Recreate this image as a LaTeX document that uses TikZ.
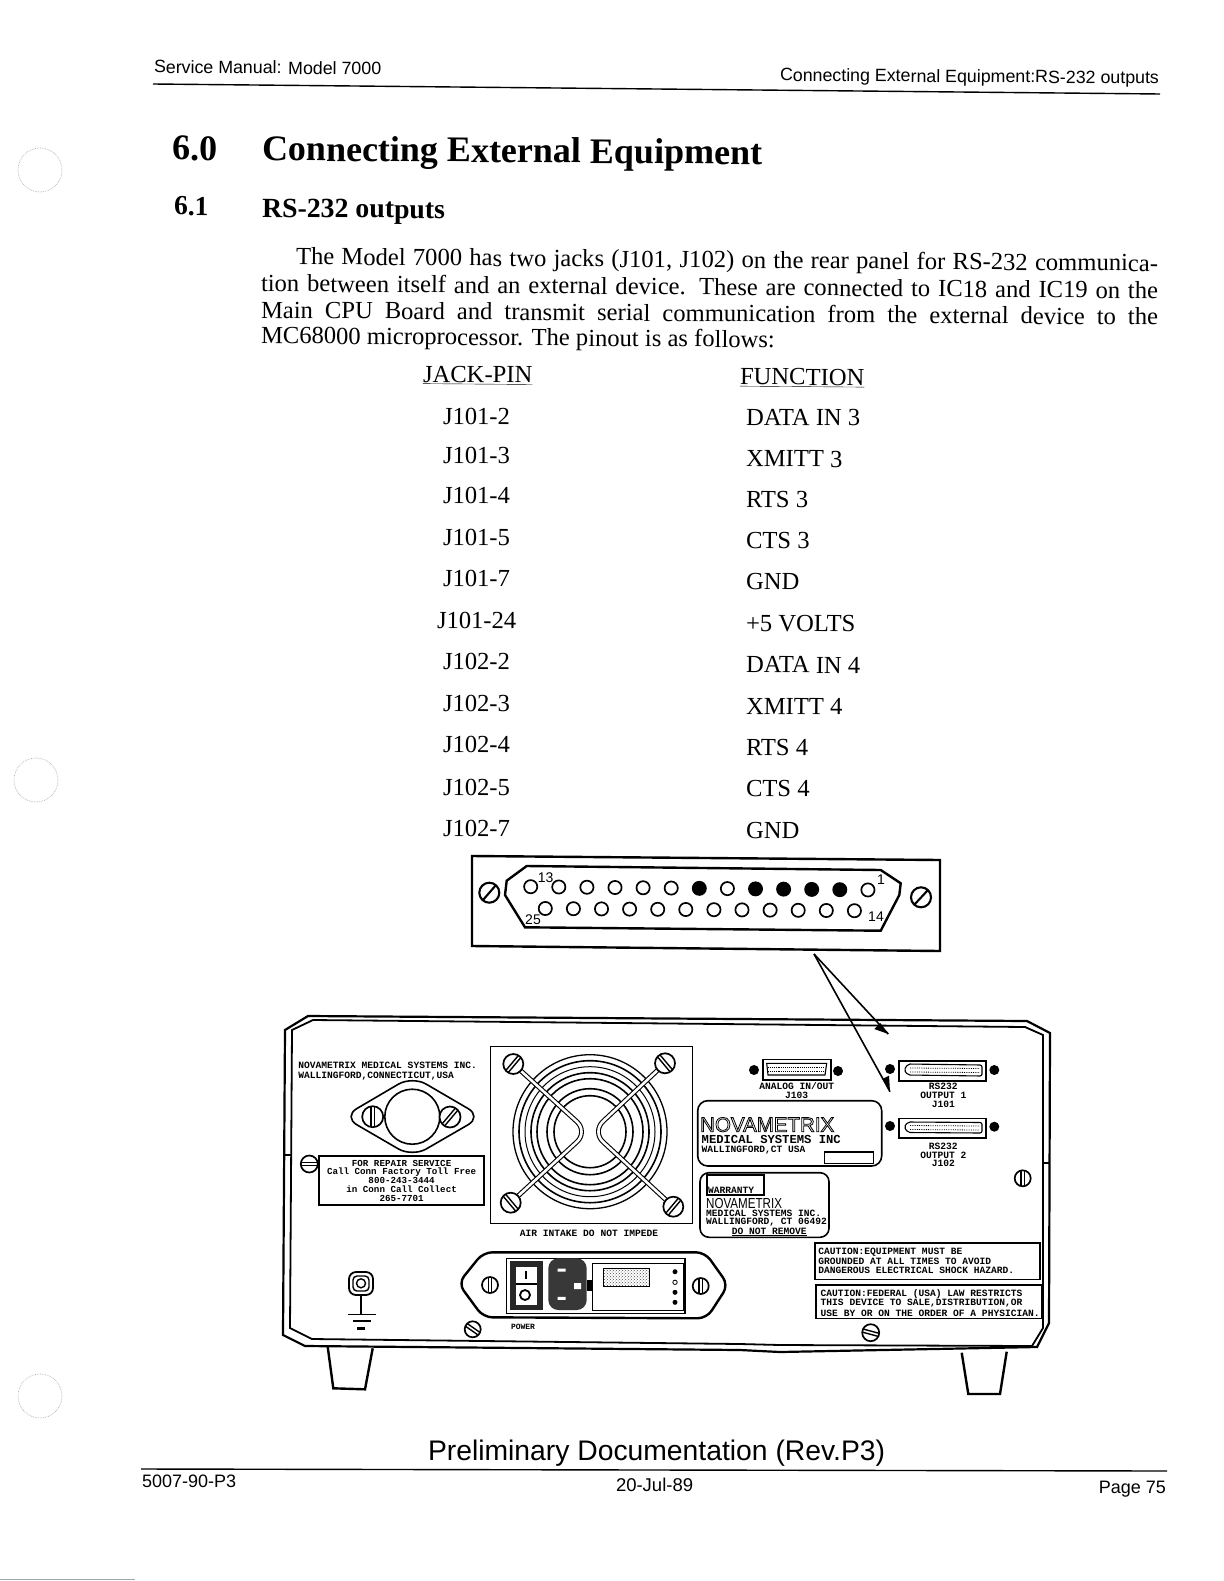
\documentclass[tikz,border=0pt]{standalone}
\usepackage{fontspec}
\usetikzlibrary{patterns}
\setmainfont{Liberation Serif}
\newfontfamily\hv{Liberation Sans}
\newfontfamily\hvn[FakeStretch=0.8]{Liberation Sans}
\newfontfamily\mn{Liberation Mono}
\newcommand\fs[1]{\fontsize{#1}{#1}\selectfont}
\newcommand\myscrew[5][]{%
  \draw[line width=1.7pt,fill=white] (#2,#3) circle (#4);
  \draw[line width=1.4pt,rotate around={#5:(#2,#3)}] (#2,#3)++(-#4,-1.6) -- ++(2*#4,0) (#2,#3)++(-#4,1.6) -- ++(2*#4,0);
}
\newcommand\mypin[3]{\draw[line width=1.7pt,#3] (#1,#2) circle (6.6);}
\begin{document}
\begin{tikzpicture}[x=1pt,y=-1pt,
  txt/.style={inner sep=0,outer sep=0,anchor=base west,rotate=-0.45},
  body/.style={txt,font=\fs{24.6}},
  rowt/.style={txt,font=\fs{24.6}},
  sans/.style={inner sep=0,outer sep=0,anchor=base west,font=\hv\fs{18}},
  lab/.style={inner sep=0,outer sep=0,font=\mn\bfseries\fs{9.6}},
  labl/.style={lab,anchor=west},
  heavy/.style={line width=2.4pt},
  mid/.style={line width=1.6pt},
  hole/.style={gray!60,line width=.7pt,densely dotted},
  bar/.style={line width=1.1pt,double=white,double distance=2.6pt,rounded corners=15pt}]
\useasboundingbox (0,0) rectangle (1223,1581);
\fill[white] (0,0) rectangle (1223,1581);
% punch holes
\draw[hole] (40,170) circle (22);
\draw[hole] (36,780) circle (22);
\draw[hole] (40,1396) circle (22);
\draw[gray!70,line width=.8pt] (0,1579) -- (135,1579);
% header
\node[sans,rotate=-0.45,font=\hv\fs{17.8}] (hl) at (154,73) {Service Manual: Model 7000};
\node[sans,rotate=-0.45,font=\hv\fs{17.8}] (hr) at (780,81) {Connecting External Equipment:RS-232 outputs};
\coordinate (hra) at (153,84); \coordinate (hrb) at (1160,94);
\draw[line width=1.4pt] (hra) -- (hrb);
% titles
\node[txt,font=\bfseries\fs{36}] (t0) at (172,160) {6.0};
\node[txt,font=\bfseries\fs{36}] (t1) at (262,160.5) {Connecting External Equipment};
\node[txt,font=\bfseries\fs{27.5}] (s0) at (174,215) {6.1};
\node[txt,font=\bfseries\fs{27.8}] (s1) at (262,217) {RS-232 outputs};
% paragraph
\node[body] (p1) at (296,264.5) {\makebox[862pt][s]{The Model 7000 has two jacks (J101, J102) on the rear panel for RS-232 communica-}};
\node[body] (p2) at (261,291.5) {\makebox[897pt][s]{tion between itself and an external device. These are connected to IC18 and IC19 on the}};
\node[body] (p3) at (261,318) {\makebox[897pt][s]{Main CPU Board and transmit serial communication from the external device to the}};
\node[body] (p4) at (261,343.5) {MC68000 microprocessor. The pinout is as follows:};
% table
\node[rowt] (jh) at (423,382) {\underline{JACK-PIN}};
\node[rowt] (fh) at (740,384.5) {\underline{FUNCTION}};
\node[rowt] (j1) at (443,424) {J101-2};
\node[rowt] (j2) at (443,463.5) {J101-3};
\node[rowt] (j3) at (443,503.5) {J101-4};
\node[rowt] (j4) at (443,545) {J101-5};
\node[rowt] (j5) at (443,586.5) {J101-7};
\node[rowt] (j6) at (437,628) {J101-24};
\node[rowt] (j7) at (443,669.5) {J102-2};
\node[rowt] (j8) at (443,711) {J102-3};
\node[rowt] (j9) at (443,752) {J102-4};
\node[rowt] (j10) at (443,795) {J102-5};
\node[rowt] (j11) at (443,836) {J102-7};
\node[rowt] (f1) at (746,425) {DATA IN 3};
\node[rowt] (f2) at (746,466.5) {XMITT 3};
\node[rowt] (f3) at (746,507.5) {RTS 3};
\node[rowt] (f4) at (746,548.5) {CTS 3};
\node[rowt] (f5) at (746,589.5) {GND};
\node[rowt] (f6) at (746,631) {+5 VOLTS};
\node[rowt] (f7) at (746,672.5) {DATA IN 4};
\node[rowt] (f8) at (746,714) {XMITT 4};
\node[rowt] (f9) at (746,755) {RTS 4};
\node[rowt] (f10) at (746,796.5) {CTS 4};
\node[rowt] (f11) at (746,838) {GND};
% DB25 panel
\draw[heavy] (472,856) -- (940,860) -- (940,951) -- (472,946) -- cycle;
\draw[heavy] (526.7,866) -- (880.7,870) -- (900.7,883.3) -- (899.3,895) -- (880.7,930.7) -- (525,927.3) -- (505,895) -- (506.7,880.7) -- cycle;
\foreach \i/\o in {0/,1/,2/,3/,4/,5/,6/fill,7/,8/fill,9/fill,10/fill,11/fill,12/}{
  \pgfmathsetmacro\px{530.7+28.1*\i}\pgfmathsetmacro\py{886.7+.27*\i}
  \mypin{\px}{\py}{\o}
}
\foreach \i in {0,...,11}{
  \pgfmathsetmacro\px{545.3+28.1*\i}\pgfmathsetmacro\py{908.5+.2*\i}
  \mypin{\px}{\py}{}
}
\node[inner sep=0,font=\hv\fs{14}] (n13) at (545.7,878) {13};
\node[inner sep=0,font=\hv\fs{14}] (n1) at (881,880) {1};
\node[inner sep=0,font=\hv\fs{14}] (n25) at (533,920) {25};
\node[inner sep=0,font=\hv\fs{14}] (n14) at (876,917) {14};
\draw[line width=2.1pt] (489.3,892.7) circle (10) (483,900) -- (496,885);
\draw[line width=2.1pt] (921,897.3) circle (10) (914,905) -- (928,890);
% cabinet
\draw[line width=2.2pt] (285,1030) -- (308,1016) -- (1027,1021) -- (1050,1033) -- (1049,1323) -- (1037,1347) -- (780,1352) -- (740,1350) -- (305,1346) -- (283,1335) -- cycle;
\draw[line width=1.8pt] (292,1030) -- (313,1020) -- (1025,1027) -- (1043,1035) -- (1043,1328) -- (1032,1346) -- (780,1345) -- (740,1344) -- (312,1339) -- (290,1328) -- cycle;
\draw[mid] (285,1155) -- (292,1155) (1043,1163) -- (1050,1163);
% feet
\draw[heavy] (327.7,1346.7) -- (333.3,1388.3) -- (365,1389.3) -- (372.7,1348.3);
\draw[heavy] (961.7,1352.7) -- (968.3,1394) -- (1000,1394) -- (1006.7,1351.7);
% left labels
\node[labl] (m1) at (298.3,1065) {NOVAMETRIX MEDICAL SYSTEMS INC.};
\node[labl] (m2) at (298.3,1075.7) {WALLINGFORD,CONNECTICUT,USA};
% flange
\draw[mid,rounded corners=16pt] (343,1116.7) -- (412.3,1076) -- (482,1116.7) -- (412.3,1157) -- cycle;
\draw[mid] (412.3,1116.7) circle (27.5);
\myscrew{372.7}{1116.7}{10.5}{90}
\myscrew{450}{1117}{10.5}{50}
% repair
\node[draw,mid,minimum width=164.7pt,minimum height=49pt,inner sep=0] (rep) at (401.6,1180.5) {};
\node[lab,font=\mn\bfseries\fs{9.2}] (r1) at (401.6,1163.3) {FOR REPAIR SERVICE};
\node[lab,font=\mn\bfseries\fs{9.2}] (r2) at (401.6,1172.3) {Call Conn Factory Toll Free};
\node[lab,font=\mn\bfseries\fs{9.2}] (r3) at (401.6,1180.7) {800-243-3444};
\node[lab,font=\mn\bfseries\fs{9.2}] (r4) at (401.6,1189.3) {in Conn Call Collect};
\node[lab,font=\mn\bfseries\fs{9.2}] (r5) at (401.6,1198) {265-7701};
\myscrew{309.3}{1164}{8.5}{0}
% fan
\node[draw,line width=1.4pt,minimum width=202pt,minimum height=176.6pt,inner sep=0] (fan) at (591.7,1135) {};
\foreach \r/\w in {77/1.3,71/1.6,65/1,59/1.6,53/1.6,43/1.6,36/1.6}{\draw[line width=\w pt] (590,1131.7) circle (\r);}
\draw[bar] (513.3,1064) -- (588,1131.7) -- (510.7,1202.7);
\draw[bar] (665,1063.3) -- (592,1131.7) -- (673.3,1206.7);
\myscrew{513.3}{1064}{10}{50}
\myscrew{665}{1063.3}{10}{130}
\myscrew{510.7}{1202.7}{10}{130}
\myscrew{673.3}{1206.7}{10}{50}
\node[lab] (air) at (589,1233) {AIR INTAKE DO NOT IMPEDE};
% analog
\node[draw,mid,minimum width=68pt,minimum height=20.7pt,inner sep=0] (ana) at (796.7,1069.7) {};
\draw[line width=.9pt,densely dotted] (768,1067) -- (825,1067) (768,1071) -- (825,1071);
\draw[line width=1.1pt] (766.7,1063.3) -- (826.7,1063.3) -- (825,1075) -- (768,1075) -- cycle;
\fill (754,1070) circle (5) (838,1071) circle (5);
\node[lab] (a1) at (796.7,1086) {ANALOG IN/OUT};
\node[lab] (a2) at (796.7,1095) {J103};
% RS232 connectors
\node[draw,mid,minimum width=87pt,minimum height=20pt,inner sep=0] (c1) at (942.5,1070.7) {};
\draw[line width=1.1pt,rounded corners=2pt] (904,1070) -- (908,1064) -- (982,1065) -- (982,1076) -- (908,1075) -- cycle;
\draw[line width=.8pt,densely dotted] (910,1068) -- (980,1068.5) (910,1072) -- (979,1072.5);
\fill (890,1069) circle (5) (994.3,1070) circle (5);
\node[lab] (c11) at (943.3,1086.7) {RS232};
\node[lab] (c12) at (943.3,1095.3) {OUTPUT 1};
\node[lab] (c13) at (943.3,1104) {J101};
\node[draw,mid,minimum width=87pt,minimum height=19.4pt,inner sep=0] (c2) at (942.5,1128) {};
\draw[line width=1.1pt,rounded corners=2pt] (904,1127) -- (908,1122) -- (982,1122.5) -- (982,1133) -- (908,1132.5) -- cycle;
\draw[line width=.8pt,densely dotted] (910,1125.5) -- (980,1126) (910,1129.5) -- (979,1130);
\fill (890,1126) circle (5) (994.3,1126.7) circle (5);
\node[lab] (c21) at (943.3,1146) {RS232};
\node[lab] (c22) at (943.3,1155) {OUTPUT 2};
\node[lab] (c23) at (943.3,1163.7) {J102};
\myscrew{1022.7}{1178.3}{8}{90}
% arrows
\coordinate (apex) at (814,954);
\coordinate (a1e) at (888.3,1034);
\coordinate (a2e) at (890,1091.7);
\draw[line width=1.6pt] (apex) -- (a1e);
\draw[line width=1.6pt] (apex) -- (a2e);
\fill (a1e) -- ++(-14,-5) -- ++(6,-6) -- cycle;
\fill (a2e) -- ++(-7,-13) -- ++(6,-3) -- cycle;
% Novametrix plate
\draw[mid,rounded corners=10pt] (697.7,1100.7) rectangle (881.7,1166);
\node[inner sep=0,anchor=base west] (nv) at (700,1131.7) {\special{pdf:code 1 Tr 0.8 w}\hv\fs{20.5}NOVAMETRIX\special{pdf:code 0 Tr}};
\node[labl,font=\mn\bfseries\fs{12.2}] (nv2) at (701.7,1139.5) {MEDICAL SYSTEMS INC};
\node[labl] (nv3) at (701.7,1150) {WALLINGFORD,CT USA};
\draw[mid] (824.3,1151.7) rectangle (873.3,1163.3);
% warranty
\draw[mid,rounded corners=9pt] (700,1172.7) rectangle (829,1237.3);
\draw[mid] (706.7,1175) rectangle (764,1195);
\node[labl] (w1) at (708,1190.5) {WARRANTY};
\node[inner sep=0,anchor=west,font=\hvn\fs{14.5}] (w2) at (706,1203) {NOVAMETRIX};
\node[labl] (w3) at (706,1213) {MEDICAL SYSTEMS INC.};
\node[labl] (w4) at (706,1221.9) {WALLINGFORD, CT 06492};
\node[lab] (w5) at (769.3,1232) {\underline{DO NOT REMOVE}};
% cautions
\node[draw,mid,minimum width=225pt,minimum height=36.6pt,inner sep=0] (ca) at (927.5,1261) {};
\node[labl] (ca1) at (818.3,1252.3) {CAUTION:EQUIPMENT MUST BE};
\node[labl] (ca2) at (818.3,1261) {GROUNDED AT ALL TIMES TO AVOID};
\node[labl] (ca3) at (818.3,1270) {DANGEROUS ELECTRICAL SHOCK HAZARD.};
\node[draw,mid,minimum width=225.7pt,minimum height=33.3pt,inner sep=0] (cb) at (928.8,1301.7) {};
\node[labl] (cb1) at (820.7,1294) {CAUTION:FEDERAL (USA) LAW RESTRICTS};
\node[labl] (cb2) at (820.7,1303.3) {THIS DEVICE TO SALE,DISTRIBUTION,OR};
\node[labl] (cb3) at (820.7,1313) {USE BY OR ON THE ORDER OF A PHYSICIAN.};
\myscrew{870.7}{1332.7}{8.5}{-15}
% power plate
\draw[heavy,rounded corners=9pt] (483.3,1252.3) -- (705,1252.3) -- (728.3,1285) -- (706.7,1318.3) -- (483.3,1317.3) -- (458.3,1283.3) -- cycle;
\myscrew{490}{1285}{8}{90}
\myscrew{700.7}{1286}{8}{90}
\draw[line width=1.2pt] (506.7,1258.3) rectangle (685,1313.3);
\fill[black!85] (510,1260.7) rectangle (543.3,1310);
\fill[white] (516,1267.3) rectangle (537.3,1305);
\draw[heavy] (516,1284) -- (537.3,1284);
\draw[line width=1.6pt] (525.7,1271) -- (525.7,1279);
\draw[line width=1.8pt] (525,1295) circle (5);
\fill[black!78,rounded corners=10pt] (548.3,1258.3) rectangle (586.7,1310);
\fill[white] (557.7,1268.5) rectangle (565.7,1271.5) (557.7,1296.8) rectangle (565.7,1299.8) (574,1283) rectangle (581,1289);
\fill (586.7,1280) rectangle (594,1290.7);
\draw[line width=1pt,fill=white] (592.3,1263.3) rectangle (683.3,1310.7);
\draw[line width=.8pt,pattern=crosshatch dots,pattern color=black!70] (603.3,1268.3) rectangle (649,1286.7);
\fill (675,1271.7) circle (2.5) (675,1292.3) circle (2.5) (675,1302.3) circle (2.5);
\draw[line width=.8pt] (675,1282.3) circle (2.2);
% ground
\draw[line width=1.8pt,rounded corners=7pt] (349,1272) rectangle (373,1295);
\draw[line width=1.4pt,rounded corners=4pt] (353,1276) rectangle (369,1291);
\draw[line width=1.4pt] (361,1283.3) circle (4.5);
\draw[line width=1.4pt] (361,1295) -- (361,1314.3);
\draw[line width=1.6pt] (348.3,1314.3) -- (376,1314.3);
\draw[line width=2pt] (353.3,1320.7) -- (370.7,1320.7);
\draw[line width=2.4pt] (357,1328.3) -- (365,1328.3);
\myscrew{472.7}{1329.3}{8}{-35}
\node[lab,font=\mn\bfseries\fs{8}] (pw) at (523,1326.7) {POWER};
% footer
\node[sans,font=\hv\fs{28.3}] (fp) at (428,1460) {Preliminary Documentation (Rev.P3)};
\coordinate (fra) at (141,1469); \coordinate (frb) at (1167,1471);
\draw[line width=1.4pt] (fra) -- (frb);
\node[sans] (fa) at (142,1487) {5007-90-P3};
\node[sans,font=\hv\fs{18.5}] (fb) at (616,1491) {20-Jul-89};
\node[sans,anchor=base east] (fc) at (1166,1493) {Page 75};
\end{tikzpicture}
\end{document}
